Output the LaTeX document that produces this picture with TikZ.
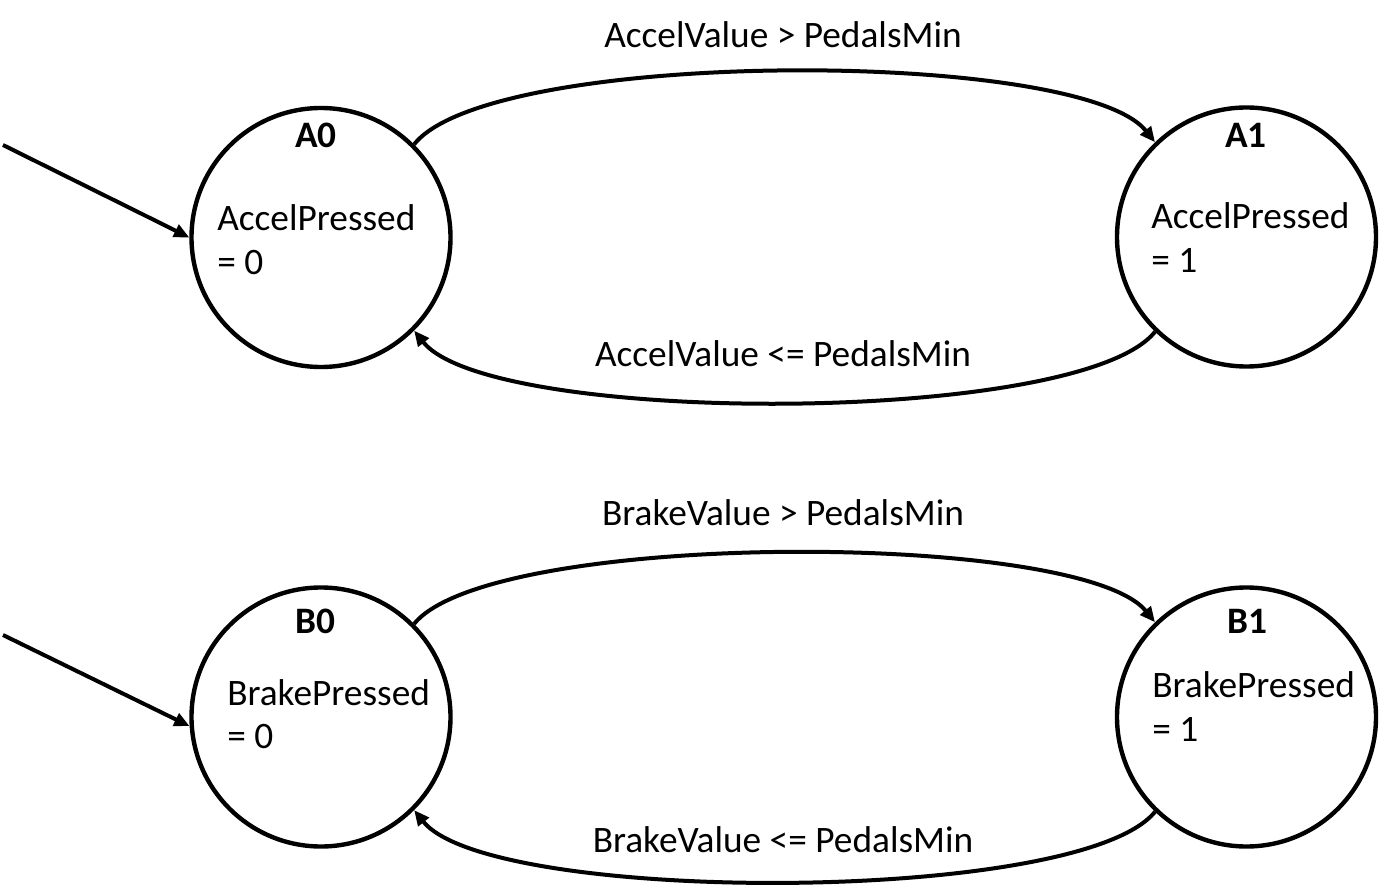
\documentclass[tikz,border=0pt]{standalone}
\usepackage{fontspec}
\setmainfont{Carlito}
\usetikzlibrary{arrows.meta}
\tikzset{
  statecirc/.style={circle, draw=black, line width=3.3pt, minimum size=194.25pt, inner sep=0pt},
  txt/.style={inner sep=0pt, font=\fontsize{28}{34}\selectfont},
  lefttxt/.style={txt, anchor=base west},
  headtxt/.style={txt, anchor=base, font=\fontsize{28}{34}\selectfont\bfseries},
  edgetxt/.style={txt, anchor=base},
  conn/.style={draw=black, line width=3pt, -{Triangle[length=11.5pt,width=10pt]}},
}
\begin{document}
\begin{tikzpicture}[x=0.75pt, y=-0.75pt]
\path[use as bounding box] (0,0) rectangle (1381,887);
% states
\node[statecirc] (A0) at (321,237.5) {};
\node[statecirc] (A1) at (1246.5,237) {};
\node[statecirc] (B0) at (321,717) {};
\node[statecirc] (B1) at (1246.5,717) {};
% state texts
\node[headtxt] (A0h) at (316,148) {A0};
\node[lefttxt] (A0a) at (217,231) {AccelPressed};
\node[lefttxt] (A0b) at (217,275) {= 0};
\node[headtxt] (A1h) at (1246,148) {A1};
\node[lefttxt] (A1a) at (1151,229) {AccelPressed};
\node[lefttxt] (A1b) at (1151,273) {= 1};
\node[headtxt] (B0h) at (315,633) {B0};
\node[lefttxt] (B0a) at (227,705) {BrakePressed};
\node[lefttxt] (B0b) at (227,748) {= 0};
\node[headtxt] (B1h) at (1247,633) {B1};
\node[lefttxt] (B1a) at (1152,697) {BrakePressed};
\node[lefttxt] (B1b) at (1152,741) {= 1};
% edge labels
\node[edgetxt] (lA01) at (783,48) {AccelValue > PedalsMin};
\node[edgetxt] (lA10) at (783,367) {AccelValue <= PedalsMin};
\node[edgetxt] (lB01) at (783,525) {BrakeValue > PedalsMin};
\node[edgetxt] (lB10) at (783,852) {BrakeValue <= PedalsMin};
% initial arrows
\coordinate (iA) at (3,145);
\coordinate (iB) at (3,635);
\draw[conn] (iA) -- (A0.west);
\draw[conn] (iB) -- (B0.184);
% transitions
\draw[conn] (A0.45) .. controls (490,48) and (1080,48) .. (A1.134);
\draw[conn] (A1.226) .. controls (1080,426) and (490,426) .. (A0.315);
\draw[conn] (B0.45) .. controls (490,530) and (1080,530) .. (B1.134);
\draw[conn] (B1.226) .. controls (1080,905) and (490,905) .. (B0.315);
\end{tikzpicture}
\end{document}
